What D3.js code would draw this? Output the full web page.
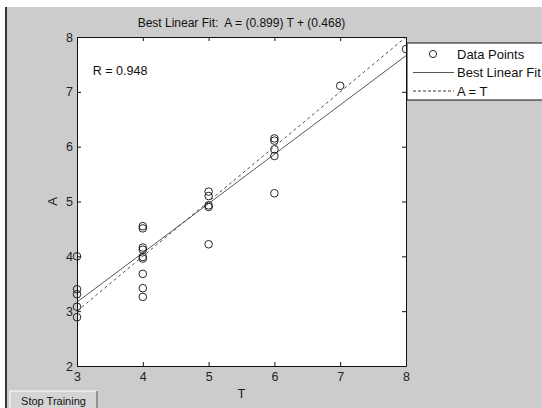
<!DOCTYPE html>
<html>
<head>
<meta charset="utf-8">
<style>
  body { margin: 0; background: #fff; }
  svg { display: block; font-family: "Liberation Sans", Arial, sans-serif; }
</style>
</head>
<body></body>
<script src="https://d3js.org/d3.v7.min.js"></script>
<script>
  // targets (T) and network outputs (A)
  const targets = [3, 3, 3, 3, 3,
    4, 4, 4, 4, 4, 4, 4, 4, 4,
    5, 5, 5, 5, 5,
    6, 6, 6, 6, 6,
    7, 8]
  const outputs = [4.0, 3.4, 3.31, 3.08, 2.89,
    4.55, 4.51, 4.16, 4.12, 3.99, 3.96, 3.68, 3.42, 3.26,
    5.18, 5.10, 4.93, 4.90, 4.22,
    6.15, 6.11, 5.95, 5.83, 5.15,
    7.11, 7.78]
  const slope = 0.899
  const intercept = 0.468
  const rValue = 0.948
  const xTicks = [3, 4, 5, 6, 7, 8]
  const yTicks = [2, 3, 4, 5, 6, 7, 8]
  const legendLabels = ['Data Points', 'Best Linear Fit', 'A = T']

  const W = 542
  const H = 408
  const plot = { left: 77, top: 37, right: 406, bottom: 366 }

  const svg = d3.select('body').append('svg')
    .attr('width', W)
    .attr('height', H)

  // figure background
  svg.append('rect').attr('width', W).attr('height', H).attr('fill', '#fff')
  svg.append('rect').attr('x', 7).attr('y', 7).attr('width', W - 7).attr('height', H - 7).attr('fill', '#cccccc')
  svg.append('rect').attr('x', 5).attr('y', 7).attr('width', 2).attr('height', H - 7).attr('fill', '#333')

  const x = d3.scaleLinear().domain([3, 8]).range([plot.left, plot.right])
  const y = d3.scaleLinear().domain([2, 8]).range([plot.bottom, plot.top])

  // axes background
  svg.append('rect')
    .attr('x', plot.left).attr('y', plot.top)
    .attr('width', plot.right - plot.left).attr('height', plot.bottom - plot.top)
    .attr('fill', '#fff')

  // title
  svg.append('text')
    .attr('x', (plot.left + plot.right) / 2)
    .attr('y', 27)
    .attr('text-anchor', 'middle')
    .attr('font-size', 12)
    .attr('fill', '#111')
    .style('white-space', 'pre')
    .text(`Best Linear Fit:  A = (${slope}) T + (${intercept})`)

  // fit line and A = T line
  const line = d3.line().x(d => x(d[0])).y(d => y(d[1]))
  const ends = x.domain()
  svg.append('path')
    .datum(ends.map(t => [t, slope * t + intercept]))
    .attr('d', line)
    .attr('fill', 'none')
    .attr('stroke', '#444')
    .attr('stroke-width', 0.9)
  svg.append('path')
    .datum(ends.map(t => [t, t]))
    .attr('d', line)
    .attr('fill', 'none')
    .attr('stroke', '#222')
    .attr('stroke-width', 0.8)
    .attr('stroke-dasharray', '3,3')

  // data points
  svg.append('g').selectAll('circle')
    .data(targets.map((t, i) => [t, outputs[i]]))
    .enter().append('circle')
    .attr('cx', d => x(d[0]))
    .attr('cy', d => y(d[1]))
    .attr('r', 3.8)
    .attr('fill', 'none')
    .attr('stroke', '#111')
    .attr('stroke-width', 0.9)

  // axes, ticks inward, mirrored on top and right
  const styleAxis = g => {
    g.selectAll('path.domain').attr('stroke', '#111')
    g.selectAll('line').attr('stroke', '#111')
    g.selectAll('text').attr('font-size', 12.5).attr('fill', '#222')
      .attr('font-family', '"Liberation Sans", Arial, sans-serif')
  }
  const fmt = d3.format('d')
  svg.append('g')
    .attr('transform', `translate(0,${plot.bottom})`)
    .call(d3.axisBottom(x).tickValues(xTicks).tickFormat(fmt).tickSizeInner(-4).tickSizeOuter(0).tickPadding(6))
    .call(styleAxis)
  svg.append('g')
    .attr('transform', `translate(${plot.left},0)`)
    .call(d3.axisLeft(y).tickValues(yTicks).tickFormat(fmt).tickSizeInner(-4).tickSizeOuter(0).tickPadding(4))
    .call(styleAxis)
  svg.append('g')
    .attr('transform', `translate(0,${plot.top})`)
    .call(d3.axisTop(x).tickValues(xTicks).tickSizeInner(-4).tickSizeOuter(0).tickFormat(''))
    .call(styleAxis)
  svg.append('g')
    .attr('transform', `translate(${plot.right},0)`)
    .call(d3.axisRight(y).tickValues(yTicks).tickSizeInner(-4).tickSizeOuter(0).tickFormat(''))
    .call(styleAxis)

  // R annotation
  svg.append('text')
    .attr('x', x(3.24))
    .attr('y', y(7.3))
    .attr('font-size', 12.5)
    .attr('fill', '#111')
    .text(`R = ${rValue}`)

  // axis labels
  svg.append('text')
    .attr('x', (plot.left + plot.right) / 2)
    .attr('y', 398)
    .attr('text-anchor', 'middle')
    .attr('font-size', 13)
    .attr('fill', '#222')
    .text('T')
  svg.append('text')
    .attr('transform', `translate(57,${(plot.top + plot.bottom) / 2}) rotate(-90)`)
    .attr('text-anchor', 'middle')
    .attr('font-size', 13)
    .attr('fill', '#222')
    .text('A')

  // legend
  const lg = svg.append('g').attr('transform', 'translate(407,43)')
  lg.append('rect')
    .attr('width', 140).attr('height', 57)
    .attr('fill', '#fff')
    .attr('stroke', '#111')
    .attr('stroke-width', 1)
  const rows = lg.selectAll('g.row')
    .data(legendLabels)
    .enter().append('g')
    .attr('transform', (d, i) => `translate(0,${11 + i * 18.5})`)
  rows.append('text')
    .attr('x', 50)
    .attr('y', 4.5)
    .attr('font-size', 13)
    .attr('fill', '#111')
    .text(d => d)
  rows.filter((d, i) => i === 0).append('circle')
    .attr('cx', 26).attr('cy', 0).attr('r', 3.6)
    .attr('fill', 'none').attr('stroke', '#111').attr('stroke-width', 0.9)
  rows.filter((d, i) => i > 0).append('line')
    .attr('x1', 6).attr('x2', 47)
    .attr('stroke', (d, i) => i === 0 ? '#444' : '#222')
    .attr('stroke-width', 0.9)
    .attr('stroke-dasharray', (d, i) => i === 0 ? null : '3,2')

  // Stop Training button
  const btn = svg.append('g').attr('transform', 'translate(10,391)')
  btn.append('rect').attr('width', 87).attr('height', 20).attr('fill', '#d4d4d4')
  btn.append('path').attr('d', 'M0,20V0H87').attr('fill', 'none').attr('stroke', '#fff')
  btn.append('path').attr('d', 'M87,0V20').attr('fill', 'none').attr('stroke', '#555')
  btn.append('text')
    .attr('x', 43.5).attr('y', 14)
    .attr('text-anchor', 'middle')
    .attr('font-size', 11)
    .attr('fill', '#111')
    .text('Stop Training')
</script>
</html>
